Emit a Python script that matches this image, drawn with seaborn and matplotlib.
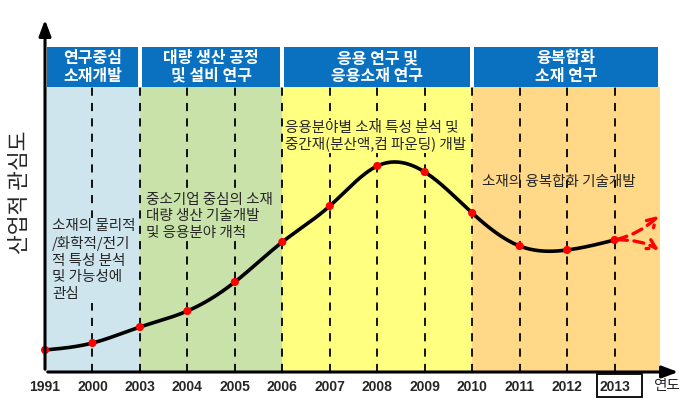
import numpy as np
import pandas as pd
import matplotlib
matplotlib.use("Agg")
import matplotlib.pyplot as plt
from matplotlib.patches import Rectangle
import seaborn as sns

# ---------------- data ----------------
years = ["1991", "2000", "2003", "2004", "2005", "2006", "2007",
         "2008", "2009", "2010", "2011", "2012", "2013"]
interest = [22, 29, 45, 61, 90, 130, 166, 206, 200, 159, 126, 122, 132]

phase_titles = ["연구중심\n소재개발", "대량 생산 공정\n및 설비 연구",
                "응용 연구 및\n응용소재 연구", "융복합화\n소재 연구"]
phase_start = [0, 2, 5, 9]
phase_end = [2, 5, 9, 12.96]
phase_colors = ["#CFE5EE", "#C8E2A9", "#FFFF80", "#FFD888"]

notes = ["소재의 물리적\n/화학적/전기\n적 특성 분석\n및 가능성에\n관심",
         "중소기업 중심의 소재\n대량 생산 기술개발\n및 응용분야 개척",
         "응용분야별 소재 특성 분석 및\n중간재(분산액,컴 파운딩) 개발",
         "소재의 융복합화 기술개발"]

# ---------------- style ----------------
sns.set_theme(style="white")
FAM = ["Noto Sans CJK KR", "DejaVu Sans"]
plt.rcParams["font.family"] = FAM

fig = plt.figure(figsize=(7.0, 4.15), dpi=100)
ax = fig.add_axes([45 / 700, 43 / 415, (681 - 45) / 700, (372 - 17) / 415])
ax.set_xlim(0, 13.40)
ax.set_ylim(0, 355)
for s in ax.spines.values():
    s.set_visible(False)
ax.set_yticks([])

top_bg = 285
# background phases
for x0, x1, c in zip(phase_start, phase_end, phase_colors):
    ax.add_patch(Rectangle((x0, 0), x1 - x0, top_bg, facecolor=c,
                           edgecolor="none", zorder=0))
# header boxes
for x0, x1, t in zip(phase_start, phase_end, phase_titles):
    ax.add_patch(Rectangle((x0 + 0.04, top_bg), x1 - x0 - 0.08, 40,
                           facecolor="#0A70C0", edgecolor="none", zorder=1,
                           clip_on=False))
    ax.text((x0 + x1) / 2, top_bg + 20, t, ha="center", va="center",
            color="white", fontsize=11.5, fontweight="heavy",
            linespacing=1.12, zorder=2, family=FAM)

# dashed year lines
for i in range(1, len(years)):
    ax.plot([i, i], [0, top_bg], color="black", lw=1.3,
            dashes=(4.5, 4), zorder=1)

# notes
NFS = 10.5
ax.text(0.15, 372 - 219, notes[0], ha="left", va="top", fontsize=NFS,
        linespacing=1.25, zorder=3,
        bbox=dict(facecolor=phase_colors[0], edgecolor="none", pad=1))
ax.text(2.13, 372 - 193, notes[1], ha="left", va="top", fontsize=NFS,
        linespacing=1.22, zorder=3,
        bbox=dict(facecolor=phase_colors[1], edgecolor="none", pad=1))
ax.text(5.06, 372 - 121, notes[2], ha="left", va="top", fontsize=NFS,
        linespacing=1.15, zorder=3,
        bbox=dict(facecolor=phase_colors[2], edgecolor="none", pad=1))
ax.text(9.2, 372 - 182, notes[3], ha="left", va="center", fontsize=NFS,
        zorder=3)

# smooth curve (natural cubic spline through the points)
xs = np.arange(len(interest), dtype=float)
ys = np.array(interest, dtype=float)
n = len(xs)
A = np.zeros((n, n))
b = np.zeros(n)
A[0, 0] = 1
A[-1, -1] = 1
for i in range(1, n - 1):
    A[i, i - 1], A[i, i], A[i, i + 1] = 1, 4, 1
    b[i] = 6 * (ys[i + 1] - 2 * ys[i] + ys[i - 1])
M = np.linalg.solve(A, b)
tt, vv = [], []
for i in range(n - 1):
    u = np.linspace(0, 1, 40, endpoint=(i == n - 2))
    s = ((1 - u) * ys[i] + u * ys[i + 1]
         + ((1 - u) ** 3 - (1 - u)) * M[i] / 6
         + (u ** 3 - u) * M[i + 1] / 6)
    tt.extend(i + u)
    vv.extend(s)
curve = pd.DataFrame({"x": tt, "y": vv})
pts = pd.DataFrame({"x": xs, "y": ys})
sns.lineplot(data=curve, x="x", y="y", ax=ax, color="black", lw=2.6,
             zorder=4, sort=False)
sns.scatterplot(data=pts, x="x", y="y", ax=ax, color="#FF0000", s=34,
                edgecolor="none", zorder=5, clip_on=False)

# red forecast arrows
last = (xs[-1], ys[-1])
ax.annotate("", xy=(12.96, 158), xytext=last,
            arrowprops=dict(arrowstyle="->,head_length=0.5,head_width=0.3",
                            color="#FF0000", lw=2.4, ls=(0, (3, 2)),
                            connectionstyle="arc3,rad=0.15"), zorder=6)
ax.annotate("", xy=(12.98, 121), xytext=last,
            arrowprops=dict(arrowstyle="->,head_length=0.5,head_width=0.3",
                            color="#FF0000", lw=2.4, ls=(0, (3, 2)),
                            connectionstyle="arc3,rad=-0.15"), zorder=6)

# axes arrows
ax.annotate("", xy=(13.40, 0), xytext=(0, 0),
            arrowprops=dict(arrowstyle="-|>,head_length=0.8,head_width=0.3",
                            color="black", lw=2.2), annotation_clip=False,
            zorder=7)
ax.annotate("", xy=(0, 355), xytext=(0, 0),
            arrowprops=dict(arrowstyle="-|>,head_length=0.8,head_width=0.3",
                            color="black", lw=2.2), annotation_clip=False,
            zorder=7)

# ticks
ax.set_xticks(range(len(years)))
ax.set_xticklabels(years, fontsize=10, fontweight="bold",
                   family="Liberation Sans")
ax.tick_params(axis="x", length=0, pad=6)
ax.set_xlabel("")
ax.set_ylabel("")
ax.add_patch(Rectangle((11.62, -25), 0.95, 23, facecolor="none",
                       edgecolor="black", lw=1.3, clip_on=False, zorder=7))
ax.text(13.1, -14, "연도", ha="center", va="center", fontsize=10.5)
ax.text(-0.52, 180, "산업적 관심도", rotation=90, ha="center", va="center",
        fontsize=15.5, transform=ax.transData)

fig.savefig("out.png", dpi=100)
